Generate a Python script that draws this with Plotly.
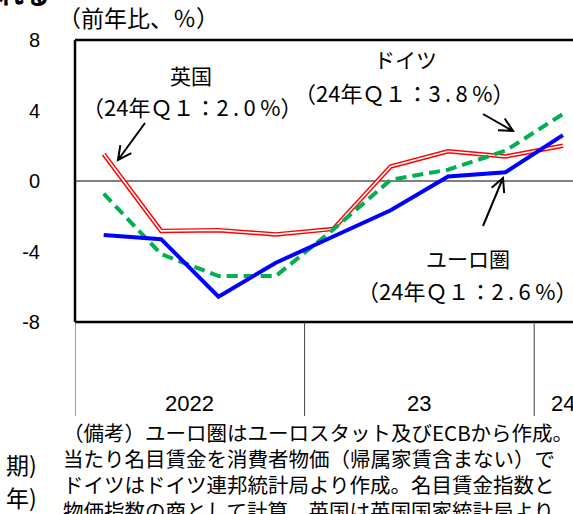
import math
import plotly.graph_objects as go

# ---- data ----
quarters = ["2022Q1", "2022Q2", "2022Q3", "2022Q4",
            "2023Q1", "2023Q2", "2023Q3", "2023Q4", "2024Q1"]
years = ["2022", "2022", "2022", "2022", "2023", "2023", "2023", "2023", "2024"]
year_labels = {"2022": "2022", "2023": "23", "2024": "24"}
euro = [-3.07, -3.30, -6.56, -4.64, -3.15, -1.66, 0.26, 0.50, 2.6]
germany = [-0.72, -4.15, -5.39, -5.39, -2.75, 0.07, 0.64, 1.72, 3.8]
uk = [1.53, -2.83, -2.79, -3.03, -2.72, 0.82, 1.69, 1.39, 2.0]
y_ticks = [8, 4, 0, -4, -8]
y_tick_text = ["8", "4", "0", "-4", "-8"]

notes = [
    "（備考）ユーロ圏はユーロスタット及びECBから作成。",
    "当たり名目賃金を消費者物価（帰属家賃含まない）で",
    "ドイツはドイツ連邦統計局より作成。名目賃金指数と",
    "物価指数の商として計算。英国は英国国家統計局より",
]

W, H = 573, 514
L, R, T, B = 75, 0, 40, 192
PW, PH = W - L - R, H - T - B
JP = "Noto Sans CJK JP"
LAT = "Liberation Sans, Arial, sans-serif"
TS = "\u2009"  # thin space, used only for letter spacing

def px(x):
    return (x - L) / PW

def py(y):
    return (H - B - y) / PH

x_idx = list(range(len(quarters)))
q_px = 57.4
x_max = -0.5 + PW / q_px

fig = go.Figure()
# UK: double red line
fig.add_trace(go.Scatter(x=x_idx, y=uk, mode="lines",
                         line=dict(color="#ff0000", width=4.5), hoverinfo="skip"))
fig.add_trace(go.Scatter(x=x_idx, y=uk, mode="lines",
                         line=dict(color="#ffffff", width=1.6), hoverinfo="skip"))
# Germany: green dashed
fig.add_trace(go.Scatter(x=x_idx, y=germany, mode="lines",
                         line=dict(color="#00b050", width=4, dash="11px,6px")))
# Euro area: blue
fig.add_trace(go.Scatter(x=x_idx, y=euro, mode="lines",
                         line=dict(color="#0000ff", width=4)))

shapes = []
# frame (no right edge: it lies beyond the picture)
for (x0, y0, x1, y1) in [(0, 1, 1, 1), (0, 0, 0, 1), (0, 0, 1, 0)]:
    shapes.append(dict(type="line", xref="paper", yref="paper", x0=x0, y0=y0,
                       x1=x1, y1=y1, line=dict(color="black", width=2.5)))

# year separators below the frame
sep_bottom = py(416)
year_order = []
for yv in years:
    if yv not in year_order:
        year_order.append(yv)
for yv in year_order:
    first = years.index(yv)
    shapes.append(dict(type="line", xref="x", yref="paper", x0=first - 0.5, x1=first - 0.5,
                       y0=0, y1=sep_bottom, line=dict(color="#404040", width=1)))

annotations = []
for yv in year_order:
    idx = [i for i, v in enumerate(years) if v == yv]
    annotations.append(dict(x=sum(idx) / len(idx), y=py(404), xref="x", yref="paper",
                            text=year_labels[yv], showarrow=False, yanchor="middle",
                            xanchor="center",
                            font=dict(family=LAT, size=22, color="black")))

# arrows (open V heads), in pixel space
def arrow(tail, tip, length=15, ang=27):
    dx, dy = tip[0] - tail[0], tip[1] - tail[1]
    a = math.atan2(dy, dx)
    pts = []
    for s in (1, -1):
        b = a + math.pi + s * math.radians(ang)
        pts.append((tip[0] + length * math.cos(b), tip[1] + length * math.sin(b)))
    path = (f"M{px(tail[0])},{py(tail[1])} L{px(tip[0])},{py(tip[1])} "
            f"M{px(pts[0][0])},{py(pts[0][1])} L{px(tip[0])},{py(tip[1])} "
            f"L{px(pts[1][0])},{py(pts[1][1])}")
    return dict(type="path", xref="paper", yref="paper", path=path,
                line=dict(color="black", width=2))

shapes.append(arrow((145, 123), (118, 160)))
shapes.append(arrow((483, 114), (513, 131)))
shapes.append(arrow((483, 226), (503, 178)))

def label(text, cx, cy, size=21, xanchor="center", bold=False, family=JP):
    if bold:
        text = f"<b>{text}</b>"
    annotations.append(dict(x=px(cx), y=py(cy), xref="paper", yref="paper", text=text,
                            showarrow=False, xanchor=xanchor, yanchor="middle",
                            font=dict(family=family, size=size, color="black")))

def spaced(s):
    return TS.join(s)

label("（前年比、％）", 138, 17, size=23)
label("英国", 191, 75)
label("（24年Ｑ１：" + spaced("2.0%") + "）", 192, 106, size=22)
label("ドイツ", 405, 59)
label("（24年Ｑ１：" + spaced("3.8%") + "）", 404, 92, size=22)
label("ユーロ圏", 468, 258)
label("（24年Ｑ１：" + spaced("2.6%") + "）", 467, 290, size=22)
label("れる", 52, -7, size=26, xanchor="right", bold=True)
label("期)", 39, 464, size=23, xanchor="right")
label("年)", 39, 497, size=23, xanchor="right")
for i, t in enumerate(notes):
    label(t, 61, 432 + 26 * i, size=20.5, xanchor="left")

fig.update_layout(
    width=W, height=H,
    margin=dict(l=L, r=R, t=T, b=B, pad=0),
    paper_bgcolor="white", plot_bgcolor="white",
    showlegend=False,
    xaxis=dict(range=[-0.5, x_max], showgrid=False, zeroline=False,
               showticklabels=False, ticks="", showline=False),
    yaxis=dict(range=[-8, 8], tickvals=y_ticks, ticktext=y_tick_text,
               showgrid=False, zeroline=True, zerolinecolor="#808080", zerolinewidth=1.6,
               ticks="", showline=False, ticklabelstandoff=34,
               tickfont=dict(family=LAT, size=20, color="black")),
    shapes=shapes,
    annotations=annotations,
)

fig.write_html("out.html", config={"displayModeBar": False},
               post_script="document.body.style.margin='0';document.body.style.overflow='hidden';")
